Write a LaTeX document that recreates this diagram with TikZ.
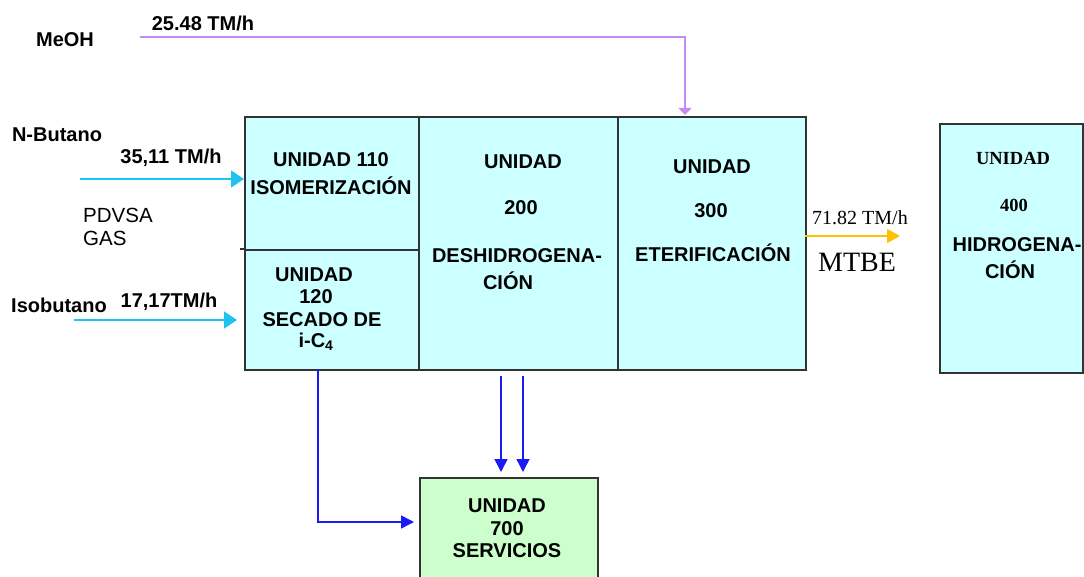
\documentclass[tikz,border=0pt]{standalone}
\usepackage{fontspec}
\setmainfont{Liberation Serif}
\setsansfont{Liberation Sans}
\usetikzlibrary{arrows.meta,calc}
\definecolor{boxcyan}{HTML}{CCFFFF}
\definecolor{boxgreen}{HTML}{CCFFCC}
\definecolor{edgegray}{HTML}{333333}
\definecolor{meohcol}{HTML}{C48CF2}
\definecolor{feedcol}{HTML}{1EC3F0}
\definecolor{mtbecol}{HTML}{FFC000}
\definecolor{servcol}{HTML}{1A1AF5}
\tikzset{
  ubox/.style={draw=edgegray, line width=1.6pt, fill=boxcyan, inner sep=0pt, anchor=north west},
  gbox/.style={draw=edgegray, line width=1.6pt, fill=boxgreen, inner sep=0pt, anchor=north west},
  lbl/.style={font=\sffamily\bfseries\fontsize{20}{23}\selectfont, inner sep=0pt, align=center},
  rlbl/.style={font=\sffamily\fontsize{20.5}{23}\selectfont, inner sep=0pt, align=left},
  slbl/.style={font=\rmfamily\fontsize{20}{23}\selectfont, inner sep=0pt},
  sblbl/.style={font=\rmfamily\bfseries\fontsize{18.5}{21}\selectfont, inner sep=0pt},
  meoharrow/.style={draw=meohcol, line width=1.5pt, -{Triangle[length=7pt,width=13pt]}},
  feedarrow/.style={draw=feedcol, line width=1.5pt, -{Triangle[length=13pt,width=17pt]}},
  mtbearrow/.style={draw=mtbecol, line width=1.5pt, -{Triangle[length=13pt,width=14pt]}},
  servarrow/.style={draw=servcol, line width=1.5pt, -{Triangle[length=13pt,width=13pt]}},
}
\begin{document}
\begin{tikzpicture}[x=1pt,y=-1pt]
\useasboundingbox (0,0) rectangle (1084,577);
\begin{scope}
\clip (0,0) rectangle (1084,577);
% boxes
\node[ubox, minimum width=174pt, minimum height=133pt] (u110) at (244,116) {};
\node[ubox, minimum width=174pt, minimum height=120pt] (u120) at (244,249) {};
\node[ubox, minimum width=199pt, minimum height=253pt] (u200) at (418,116) {};
\node[ubox, minimum width=188pt, minimum height=253pt] (u300) at (617,116) {};
\node[ubox, minimum width=143pt, minimum height=249pt] (u400) at (939,123) {};
\node[gbox, minimum width=178pt, minimum height=130pt] (u700) at (419,477) {};
\end{scope}
\coordinate (divl) at (240,249);
\draw[draw=edgegray, line width=1.6pt] (divl) -- (u120.north west);

% box texts
\node[lbl] (t110a) at (331,160) {UNIDAD 110};
\node[lbl] (t110b) at (331,186) {ISOMERIZACIÓN};
\node[lbl] (t120a) at (314,275) {UNIDAD};
\node[lbl] (t120b) at (316,297) {120};
\node[lbl] (t120c) at (322,320) {SECADO DE};
\node[lbl] (t120d) at (316,342) {i-C\textsubscript{4}};
\node[lbl] (t200a) at (523,162) {UNIDAD};
\node[lbl] (t200b) at (521,208) {200};
\node[lbl] (t200c) at (517,256) {DESHIDROGENA-};
\node[lbl] (t200d) at (508,281) {CIÓN};
\node[lbl] (t300a) at (712,167) {UNIDAD};
\node[lbl] (t300b) at (711,211) {300};
\node[lbl] (t300c) at (713,253) {ETERIFICACIÓN};
\node[sblbl] (t400a) at (1013,158) {UNIDAD};
\node[sblbl] (t400b) at (1014,205) {400};
\node[lbl] (t400c) at (1017,245) {HIDROGENA-};
\node[lbl] (t400d) at (1010,270) {CIÓN};
\node[lbl] (t700a) at (507,506) {UNIDAD};
\node[lbl] (t700b) at (507,529) {700};
\node[lbl] (t700c) at (507,551) {SERVICIOS};

% external labels
\node[lbl] (meoh) at (65,40) {MeOH};
\node[lbl] (meohrate) at (203,23) {25.48 TM/h};
\node[lbl] (nbut) at (57,135) {N-Butano};
\node[lbl] (nbrate) at (171,158) {35,11 TM/h};
\node[rlbl, anchor=west] (pdvsa) at (83,227) {PDVSA\\GAS};
\node[lbl] (isob) at (59,305) {Isobutano};
\node[lbl] (isorate) at (169,302) {17,17TM/h};
\node[slbl] (mtberate) at (860,218) {71.82 TM/h};
\node[font=\rmfamily\fontsize{28}{32}\selectfont, inner sep=0pt] (mtbe) at (857,262) {MTBE};

% connectors
\coordinate (meohs) at (140,37);
\coordinate (meohe) at (685,115);
\draw[meoharrow] (meohs) -| (meohe);
\coordinate (nbs) at (80,179);
\draw[feedarrow] (nbs) -- (nbs -| u110.west);
\coordinate (ibs) at (74,320);
\coordinate (ibe) at (237,320);
\draw[feedarrow] (ibs) -- (ibe);
\coordinate (mtbes) at (805,236);
\coordinate (mtbee) at (900,236);
\draw[mtbearrow] (mtbes) -- (mtbee);
\coordinate (s1) at (318,369);
\coordinate (s1e) at (414,522);
\draw[servarrow] (s1) |- (s1e);
\coordinate (s2) at (501,376);
\coordinate (s2e) at (501,472);
\draw[servarrow] (s2) -- (s2e);
\coordinate (s3) at (523,376);
\coordinate (s3e) at (523,472);
\draw[servarrow] (s3) -- (s3e);
\end{tikzpicture}
\end{document}
